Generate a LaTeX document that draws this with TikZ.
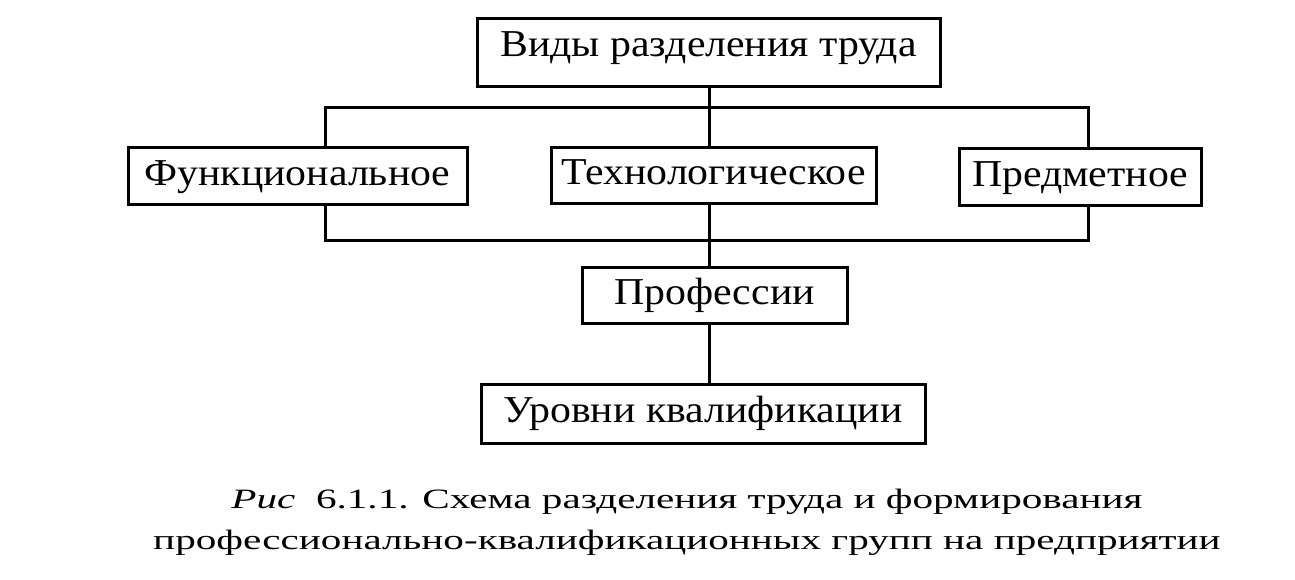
\documentclass[tikz,border=0pt]{standalone}
\usepackage{fontspec}
\setmainfont{Liberation Serif}[FakeStretch=1.1]
\newfontfamily\capfont{Liberation Serif}[FakeStretch=1.47]
\tikzset{
    box/.style={draw,line width=3pt,inner sep=0pt,text height=26pt,text depth=8pt,
        font=\fontsize{38}{42}\selectfont},
    link/.style={line width=3pt}
}
\begin{document}
\begin{tikzpicture}[x=1pt,y=-1pt]
    \useasboundingbox (0,0) rectangle (1295,580);
    \node[box,minimum width=463,minimum height=68,text depth=18pt] (vidy) at (708.5,53) {Виды разделения труда};
    \node[box,minimum width=339,minimum height=57] (funk) at (297.5,176.5) {Функциональное};
    \node[box,minimum width=325,minimum height=56] (tech) at (713.5,176) {Технологическое};
    \node[box,minimum width=242,minimum height=57] (pred) at (1080,177.5) {Предметное};
    \node[box,minimum width=265,minimum height=56] (prof) at (714.5,295) {Профессии};
    \node[box,minimum width=444,minimum height=59] (urov) at (703,413.5) {Уровни квалификации};
    \coordinate (sp) at (709,0);
    \coordinate (tl) at (325,108);
    \coordinate (tr) at (1088,108);
    \coordinate (bl) at (325,240);
    \coordinate (br) at (1088,240);
    \draw[link] (vidy.south -| sp) -- (tech.north -| sp);
    \draw[link] (funk.north -| tl) -- (tl) -- (tr) -- (pred.north -| tr);
    \draw[link] (funk.south -| bl) -- (bl) -- (br) -- (pred.south -| br);
    \draw[link] (tech.south -| sp) -- (prof.north -| sp);
    \draw[link] (prof.south -| sp) -- (urov.north -| sp);
    \node[align=center,font=\capfont\fontsize{28}{41}\selectfont] (caption) at (687,522)
        {{\itshape Рис}\ \ 6.1.1. Схема разделения труда и формирования\\
         профессионально-квалификационных групп на предприятии};
\end{tikzpicture}
\end{document}
